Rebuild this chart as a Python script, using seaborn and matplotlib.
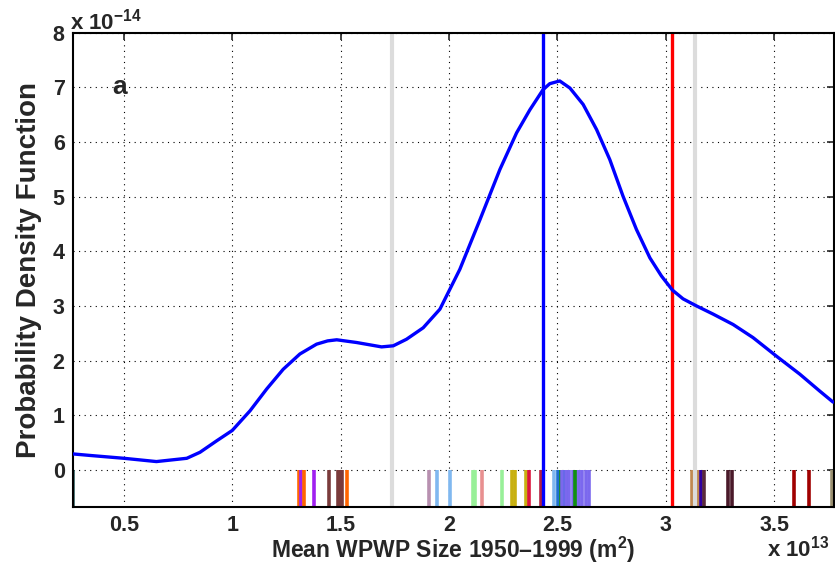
import matplotlib
matplotlib.use("Agg")
import matplotlib.pyplot as plt
import seaborn as sns
import numpy as np
import pandas as pd
from matplotlib import font_manager

sns.set_theme(style="white")
names = {f.name for f in font_manager.fontManager.ttflist}
main_font = "Liberation Sans" if "Liberation Sans" in names else "DejaVu Sans"
narrow_font = "Liberation Sans Narrow" if "Liberation Sans Narrow" in names else main_font
plt.rcParams["font.family"] = [main_font, "DejaVu Sans"]
plt.rcParams["mathtext.fontset"] = "custom"
plt.rcParams["mathtext.bf"] = main_font + ":bold"
plt.rcParams["mathtext.rm"] = main_font + ":bold"

# PDF curve (x in 1e13 m^2, y in 1e-14)
curve_x = [0.265, 0.35, 0.5, 0.65, 0.79, 0.851, 0.928, 1.0, 1.082, 1.159, 1.235, 1.312,
           1.389, 1.44, 1.482, 1.574, 1.689, 1.743, 1.804, 1.881, 1.958, 2.05, 2.143, 2.235,
           2.312, 2.373, 2.434, 2.465, 2.511, 2.558, 2.619, 2.681, 2.742, 2.803, 2.865,
           2.927, 2.98, 3.031, 3.08, 3.142, 3.219, 3.311, 3.403, 3.511, 3.619, 3.711, 3.772]
curve_y = [0.29, 0.26, 0.21, 0.15, 0.21, 0.32, 0.53, 0.72, 1.08, 1.48, 1.84, 2.12,
           2.30, 2.36, 2.38, 2.33, 2.25, 2.27, 2.39, 2.60, 2.94, 3.67, 4.58, 5.50,
           6.17, 6.59, 6.96, 7.07, 7.12, 6.99, 6.69, 6.23, 5.68, 5.01, 4.40,
           3.88, 3.55, 3.29, 3.13, 3.00, 2.85, 2.66, 2.42, 2.08, 1.75, 1.44, 1.24]

# rug of individual estimates
rug_x = [0.266, 1.306, 1.318, 1.333, 1.377, 1.445, 1.487, 1.497, 1.507, 1.528,
         1.906, 1.943, 2.003, 2.112, 2.122, 2.153, 2.245, 2.292, 2.304, 2.356, 2.370, 2.425,
         2.485, 2.501, 2.516, 2.532, 2.548, 2.523, 2.540, 2.556, 2.570, 2.585, 2.600,
         2.615, 2.630, 2.645, 2.583,
         3.122, 3.150, 3.163, 3.177, 3.286, 3.306, 3.591, 3.663, 3.768]
rug_c = ["#2F5F5F", "#FF6600", "#A020F0", "#FF6600", "#A020F0", "#7A3B3B", "#7A3B3B", "#7A3B3B", "#7A3B3B", "#FF6600",
         "#B890B0", "#80B8F0", "#80B8F0", "#98F098", "#98F098", "#E89090", "#98F098", "#C8B010", "#C8B010", "#C8B010", "#DC143C", "#B02040",
         "#80B8F0", "#1E70D0", "#109010", "#1E70D0", "#1E70D0", "#7B68EE", "#7B68EE", "#7B68EE", "#7B68EE", "#7B68EE", "#7B68EE",
         "#7B68EE", "#7B68EE", "#7B68EE", "#109010",
         "#C08850", "#C08850", "#3000A0", "#5A2A3A", "#4A1A2A", "#4A1A2A", "#A00000", "#A00000", "#9A9070"]

# reference vertical lines
vline_x = [1.735, 3.137, 2.436, 3.027]
vline_c = ["#DCDCDC", "#DCDCDC", "#0000FF", "#FF0000"]
vline_w = [3.0, 3.0, 2.4, 2.4]

xticks = [0.5, 1, 1.5, 2, 2.5, 3, 3.5]
xticklabels = ["0.5", "1", "1.5", "2", "2.5", "3", "3.5"]
yticks = [0, 1, 2, 3, 4, 5, 6, 7, 8]

xmin, xmax = 0.265, 3.775
ymin, ymax = -0.68, 8.0

fig = plt.figure(figsize=(8.35, 5.67), dpi=100)
ax = fig.add_axes([0.0874, 0.106, 0.911, 0.836])
ax.set_xlim(xmin, xmax)
ax.set_ylim(ymin, ymax)

# grid
for xt in xticks:
    ax.axvline(xt, color="black", lw=0.8, ls=(0, (1, 4)), zorder=0.5)
for yt in yticks:
    ax.axhline(yt, color="black", lw=0.8, ls=(0, (1, 4)), zorder=0.5)

rug_df = pd.DataFrame({"x": rug_x, "c": [str(i) for i in range(len(rug_x))]})
pal = {str(i): c for i, c in enumerate(rug_c)}
sns.rugplot(data=rug_df, x="x", hue="c", palette=pal, height=(0 - ymin) / (ymax - ymin),
            linewidth=2.6, legend=False, ax=ax, expand_margins=False, alpha=1)

for x, c, w in zip(vline_x, vline_c, vline_w):
    ax.axvline(x, color=c, lw=w, zorder=2)

sns.lineplot(x=curve_x, y=curve_y, color="#0000FF", lw=2.4, ax=ax, zorder=3)

ax.set_xticks(xticks)
ax.set_xticklabels(xticklabels, fontsize=15.5, fontweight="bold")
ax.set_yticks(yticks)
ax.set_yticklabels([str(v) for v in yticks], fontsize=15.5, fontweight="bold")
ax.tick_params(direction="in", length=5, width=1.2, top=True, right=True, pad=6)
for s in ax.spines.values():
    s.set_visible(True)
    s.set_color("black")
    s.set_linewidth(1.5)

ax.set_xlabel("")
fig.text(0.5425, 0.016, "Mean WPWP Size 1950\u20131999 (m$^{\\mathbf{2}}$)", fontsize=16.5,
         fontweight="bold", ha="center", va="baseline")
ax.set_ylabel("Probability Density Function", fontsize=20, fontweight="bold",
              family=[narrow_font, "DejaVu Sans"], labelpad=8)

fig.text(0.084, 0.948, "x 10$^{\\mathbf{\u221214}}$", fontsize=16, fontweight="bold", ha="left", va="baseline")
fig.text(0.918, 0.018, "x 10$^{\\mathbf{13}}$", fontsize=16, fontweight="bold", ha="left", va="baseline")
ax.text(0.48, 7.0, "a", fontsize=19, fontweight="bold", ha="center", va="center")

fig.savefig("out.png", dpi=100)
